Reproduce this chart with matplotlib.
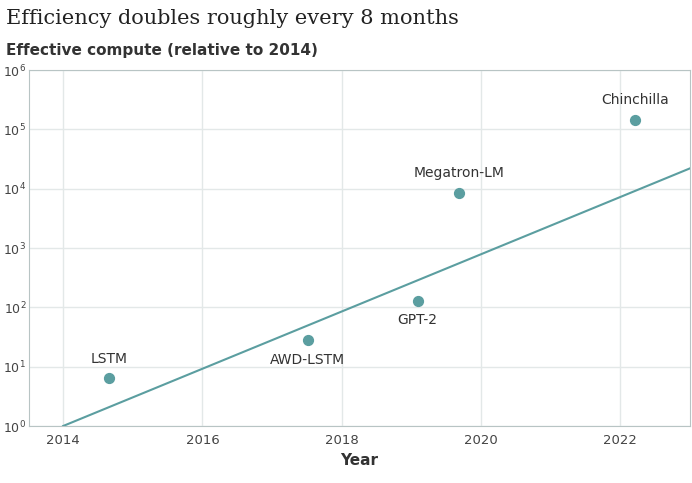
import matplotlib.pyplot as plt
import numpy as np

models = ["LSTM", "AWD-LSTM", "GPT-2", "Megatron-LM", "Chinchilla"]
years = [2014.66, 2017.51, 2019.09, 2019.69, 2022.21]
compute = [6.4, 28, 128, 8500, 145000]
trend_x = [2014, 2023]
trend_y = [1, 22000]
xticks = [2014, 2016, 2018, 2020, 2022]

c = "#5b9ea0"
fig = plt.figure(figsize=(6.92, 4.83), dpi=100)
ax = fig.add_axes([29/692, 1-426/483, 661/692, 356/483])
ax.set_yscale("log")
ax.set_xlim(2013.51, 2023)
ax.set_ylim(1, 1e6)
ax.plot(trend_x, trend_y, color=c, lw=1.5, zorder=3)
ax.scatter(years, compute, s=50, color=c, zorder=4)
offs = {"LSTM": 1, "AWD-LSTM": -1, "GPT-2": -1, "Megatron-LM": 1, "Chinchilla": 1}
for m, x, y in zip(models, years, compute):
    dy = offs[m]
    ax.annotate(m, (x, y), xytext=(0, 9*dy), textcoords="offset points",
                ha="center", va="bottom" if dy > 0 else "top", fontsize=10, color="#333")
ax.set_xticks(xticks)
ax.set_yticks([10**i for i in range(7)])
ax.minorticks_off()
ax.grid(True, color="#e3e8e8", lw=1)
for s in ax.spines.values():
    s.set_color("#b8c4c4")
ax.tick_params(axis="x", length=0, colors="#444", labelsize=9.5, pad=6)
ax.tick_params(axis="y", length=0, colors="#444", labelsize=9, pad=2)
ax.set_xlabel("Year", fontsize=11, fontweight="bold", color="#333")
fig.text(6/692, 1-18/483, "Efficiency doubles roughly every 8 months", fontsize=15,
         family="DejaVu Serif", va="center", color="#222")
fig.text(6/692, 1-50/483, "Effective compute (relative to 2014)", fontsize=11,
         fontweight="bold", va="center", color="#333")
fig.savefig("out.png", dpi=100)
